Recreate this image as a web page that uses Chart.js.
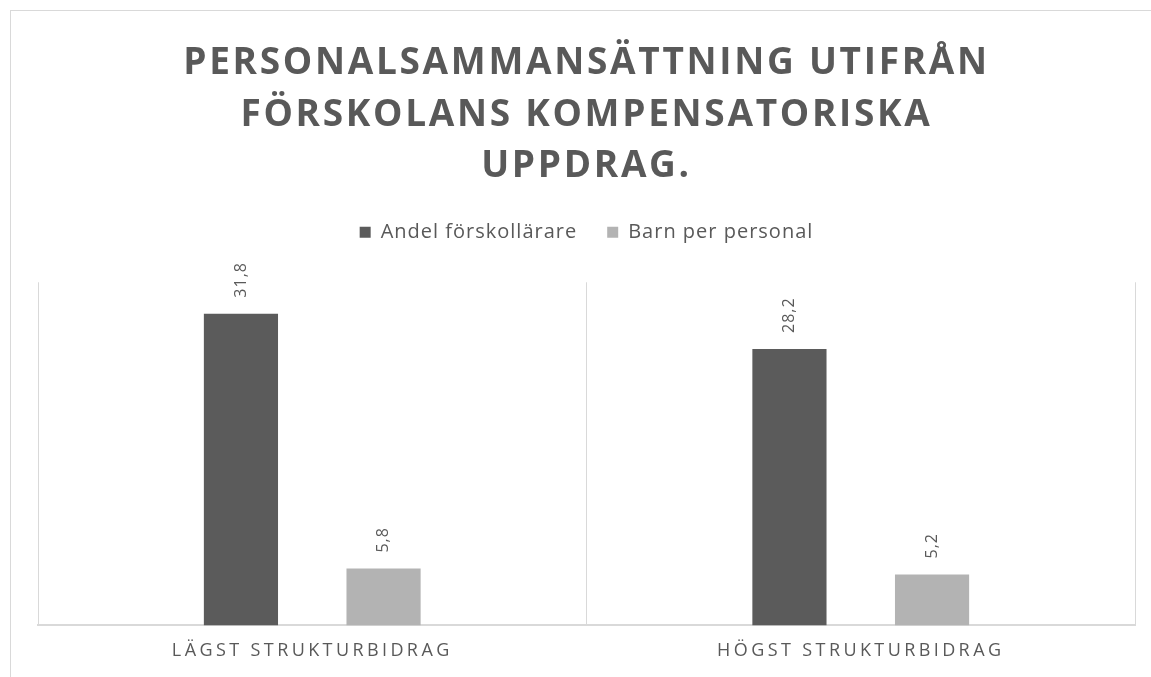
<!DOCTYPE html>
<html>
<head>
<meta charset="utf-8">
<script src="https://cdn.jsdelivr.net/npm/chart.js@4"></script>
<style>
  html, body { margin: 0; padding: 0; background: #fff; }
  #wrap { width: 1151px; height: 677px; }
</style>
</head>
<body>
<div id="wrap"><canvas id="chart" width="1151" height="677"></canvas></div>
<script>
const titleLines = ['PERSONALSAMMANSÄTTNING UTIFRÅN', 'FÖRSKOLANS KOMPENSATORISKA', 'UPPDRAG.'];
const categories = ['LÄGST STRUKTURBIDRAG', 'HÖGST STRUKTURBIDRAG'];
const seriesNames = ['Andel förskollärare', 'Barn per personal'];
const andelForskollarare = [31.8, 28.2];
const barnPerPersonal = [5.8, 5.2];

const textColor = '#595959';
const lineColor = '#d9d9d9';

// run a draw/fit method with some letter spacing on the canvas
function withSpacing(ctx, spacing, fn, self, args) {
    ctx.save();
    ctx.letterSpacing = spacing;
    fn.apply(self, args);
    ctx.restore();
}

// small tweaks: outer frame, legend gap, letter spacing, value labels
const excelLook = {
    id: 'excelLook',
    beforeInit(chart) {
        const legend = chart.legend;
        const fit = legend.fit;
        const drawLegend = legend.draw;
        legend.fit = function () {
            withSpacing(chart.ctx, '1px', fit, this, arguments);
            this.height += 30;
        };
        legend.draw = function () {
            withSpacing(chart.ctx, '1px', drawLegend, this, arguments);
        };
        const drawTitle = chart.titleBlock.draw;
        chart.titleBlock.draw = function () {
            withSpacing(chart.ctx, '2.7px', drawTitle, this, arguments);
        };
    },
    beforeDraw(chart) {
        const ctx = chart.ctx;
        ctx.save();
        ctx.strokeStyle = lineColor;
        ctx.lineWidth = 1;
        ctx.strokeRect(10.5, 10.5, 1300, 800);
        ctx.restore();
    },
    afterDatasetsDraw(chart) {
        const ctx = chart.ctx;
        chart.data.datasets.forEach((ds, i) => {
            chart.getDatasetMeta(i).data.forEach((bar, j) => {
                const txt = ds.data[j].toFixed(1).replace('.', ',');
                ctx.save();
                ctx.translate(bar.x, bar.y - 16);
                ctx.rotate(-Math.PI / 2);
                ctx.font = '16px "Open Sans"';
                ctx.letterSpacing = '1px';
                ctx.fillStyle = textColor;
                ctx.textAlign = 'left';
                ctx.textBaseline = 'middle';
                ctx.fillText(txt, 0, 0);
                ctx.restore();
            });
        });
        // x tick labels are drawn after this (ticks.z = 1)
        ctx.letterSpacing = '3.4px';
    },
    afterDraw(chart) {
        chart.ctx.letterSpacing = '0px';
    }
};

new Chart(document.getElementById('chart'), {
    type: 'bar',
    data: {
        labels: categories,
        datasets: [{
            label: seriesNames[0],
            data: andelForskollarare,
            backgroundColor: '#5b5b5b',
            borderWidth: 0,
            barPercentage: 0.52,
            categoryPercentage: 0.52
        }, {
            label: seriesNames[1],
            data: barnPerPersonal,
            backgroundColor: '#b3b3b3',
            borderWidth: 0,
            barPercentage: 0.52,
            categoryPercentage: 0.52
        }]
    },
    options: {
        responsive: false,
        animation: false,
        devicePixelRatio: 1,
        layout: {
            padding: { top: 10, left: 38, right: 16, bottom: 0 }
        },
        plugins: {
            title: {
                display: true,
                text: titleLines,
                color: textColor,
                font: { family: 'Open Sans', size: 37, weight: 'bold', lineHeight: 1.39 },
                padding: { top: 28, bottom: 0 }
            },
            legend: {
                position: 'top',
                labels: {
                    color: textColor,
                    boxWidth: 11,
                    boxHeight: 11,
                    padding: 30,
                    font: { family: 'Open Sans', size: 20 }
                }
            },
            tooltip: { enabled: false }
        },
        scales: {
            x: {
                grid: { color: lineColor, drawTicks: false, offset: true },
                border: { color: lineColor, width: 2 },
                ticks: {
                    color: textColor,
                    padding: 15,
                    z: 1,
                    font: { family: 'Open Sans', size: 18 }
                }
            },
            y: {
                display: false,
                min: 0,
                max: 35
            }
        }
    },
    plugins: [excelLook]
});
</script>
</body>
</html>
